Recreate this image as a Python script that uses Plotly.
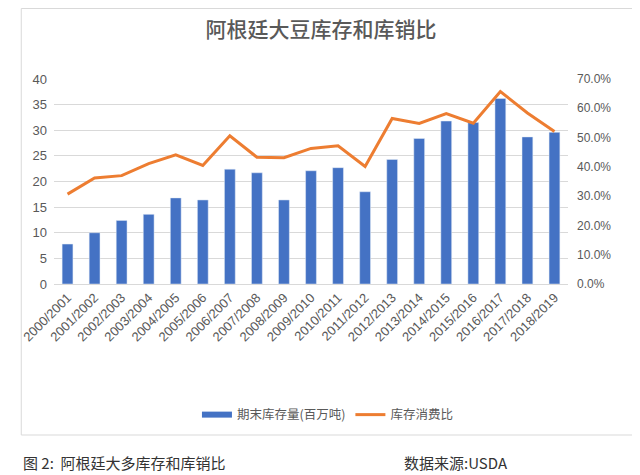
import plotly.graph_objects as go

years = ["2000/2001", "2001/2002", "2002/2003", "2003/2004", "2004/2005", "2005/2006",
         "2006/2007", "2007/2008", "2008/2009", "2009/2010", "2010/2011", "2011/2012",
         "2012/2013", "2013/2014", "2014/2015", "2015/2016", "2016/2017", "2017/2018",
         "2018/2019"]
stocks = [7.8, 10.0, 12.4, 13.6, 16.8, 16.4, 22.4, 21.7, 16.4, 22.1, 22.7, 18.0,
          24.3, 28.4, 31.8, 31.5, 36.2, 28.7, 29.6]
ratio = [30.7, 36.2, 37.0, 41.1, 44.1, 40.5, 50.6, 43.3, 43.1, 46.3, 47.2, 40.1,
         56.5, 54.8, 58.2, 54.9, 65.7, 58.4, 52.1]
ratio_frac = [r / 100 for r in ratio]

NUMFONT = "Liberation Sans, Arial, sans-serif"
CJK = "Noto Sans CJK SC, sans-serif"
GRAY = "#595959"
BLUE = "#4472C4"

fig = go.Figure()
fig.add_trace(go.Bar(x=years, y=stocks, name="期末库存量(百万吨)",
                     marker_color=BLUE, width=0.4, yaxis="y",
                     legendgroup="stock", showlegend=False))
# legend swatch for the bars (wide rectangle like the original)
fig.add_trace(go.Scatter(x=[None], y=[None], name="期末库存量(百万吨)", mode="lines",
                         line=dict(color=BLUE, width=6), legendgroup="stock",
                         hoverinfo="skip"))
fig.add_trace(go.Scatter(x=years, y=ratio_frac, name="库存消费比", mode="lines",
                         line=dict(color="#ED7D31", width=3), yaxis="y2"))

fig.update_layout(
    width=632, height=467,
    margin=dict(l=34, r=72, t=71, b=191),
    paper_bgcolor="white", plot_bgcolor="white",
    font=dict(family=NUMFONT, color=GRAY, size=12),
    title=dict(text="阿根廷大豆库存和库销比", x=0.4953, xanchor="center",
               y=0.954, yanchor="middle",
               font=dict(size=21, color=GRAY, family=CJK, weight=500)),
    xaxis=dict(type="category", range=[-0.5, 18.5], tickangle=-45,
               tickfont=dict(size=13, color=GRAY, family=NUMFONT), showgrid=False,
               showline=True, linecolor="#D9D9D9", ticks=""),
    yaxis=dict(range=[0, 40], dtick=5, gridcolor="#D9D9D9", zeroline=False,
               tickfont=dict(size=13, color=GRAY, family=NUMFONT), ticks="",
               ticklabelstandoff=6),
    yaxis2=dict(range=[0, 0.7], dtick=0.1, tickformat=".1%", overlaying="y",
                side="right", showgrid=False, zeroline=False,
                tickfont=dict(size=12, color=GRAY, family=NUMFONT), ticks="",
                ticklabelstandoff=8),
    legend=dict(orientation="h", x=0.532, xanchor="center", y=-0.639, yanchor="middle",
                font=dict(size=12.5, color=GRAY, family=CJK)),
    showlegend=True,
)

fig.add_shape(type="rect", xref="paper", yref="paper",
              x0=-0.0637, x1=1.1255, y0=-0.7366, y1=1.3439,
              line=dict(color="#D9D9D9", width=1), layer="below")

fig.add_annotation(text="图 2:  阿根廷大多库存和库销比", xref="paper", yref="paper",
                   x=-0.0646, y=-0.8683, xanchor="left", yanchor="middle",
                   showarrow=False,
                   font=dict(size=15, color="#333333", family=CJK))
fig.add_annotation(text="数据来源:USDA", xref="paper", yref="paper",
                   x=0.6768, y=-0.8683, xanchor="left", yanchor="middle",
                   showarrow=False,
                   font=dict(size=15, color="#333333", family=CJK))

fig.write_html("out.html")
